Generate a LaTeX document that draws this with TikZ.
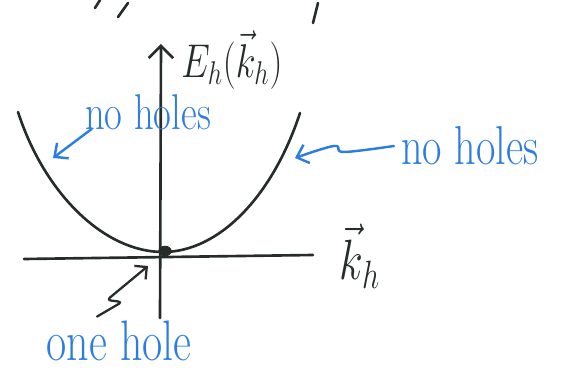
\documentclass[tikz,border=0pt]{standalone}
\usepackage{amsmath}
\usetikzlibrary{arrows.meta}
\definecolor{penblue}{RGB}{45,125,225}
\definecolor{penblack}{RGB}{38,44,40}
\newcommand{\tallhand}[2]{\scalebox{1}[1.3]{\fontsize{#1}{#1}\selectfont #2}}

\begin{document}
\begin{tikzpicture}[x=0.02cm, y=-0.02cm, >={Straight Barb[length=7pt,width=14pt]},
  ink/.style={penblack, line width=1.5pt, line cap=round, line join=round},
  bluepen/.style={penblue, line width=1.4pt, line cap=round, line join=round},
  note/.style={penblue, inner sep=0pt}]
\useasboundingbox (0,0) rectangle (562,375);
% cut-off strokes of the line above
\draw[ink] (95,8) -- (100,0);
\draw[ink] (118,17) -- (128,3);
\draw[ink] (313,23) -- (318,3);
% axes
\coordinate (o) at (163,252);
\coordinate (ytop) at (161,44);
\coordinate (ybot) at (160,318);
\coordinate (xl) at (24,259);
\coordinate (xr) at (313,255);
\draw[ink] (xl) -- (xr);
\draw[ink, ->] (ybot) -- (ytop);
\node[penblack, anchor=west, inner sep=0pt] (elabel) at (181,60) {\tallhand{22}{$E_h(\vec{k}_h)$}};
\node[penblack, inner sep=0pt] (klabel) at (360,256) {\tallhand{23}{$\vec{k}_h$}};
% band
\draw[ink] (18,112) .. controls (45,195) and (105,252) .. (o) .. controls (218,252) and (272,198) .. (300,113);
\fill[penblack] (165,251) ellipse (3.8pt and 3pt);
% labels
\node[note] (lnh) at (148,112) {\tallhand{22}{no holes}};
\node[note] (rnh) at (470,146) {\tallhand{24}{no holes}};
\node[note] (oh) at (119,341) {\tallhand{25}{one hole}};
\coordinate (lt) at (53,158);
\coordinate (rt) at (295,158);
\coordinate (ot) at (148,266);
\draw[bluepen, ->, >={Straight Barb[length=6pt,width=11pt]}] ([shift={(7,-1)}]lnh.south west) -- (lt);
\draw[bluepen, ->, >={Straight Barb[length=6pt,width=11pt]}] plot[smooth, tension=0.6] coordinates {([xshift=-4pt]rnh.west) (344,152) (337,146) (322,149) (rt)};
\draw[ink, line width=1.3pt, ->, >={Straight Barb[length=5pt,width=10pt]}, rounded corners=2pt] ([shift={(-22,-4)}]oh.north) -- (122,302) -- (107,300) -- (ot);
\end{tikzpicture}
\end{document}
